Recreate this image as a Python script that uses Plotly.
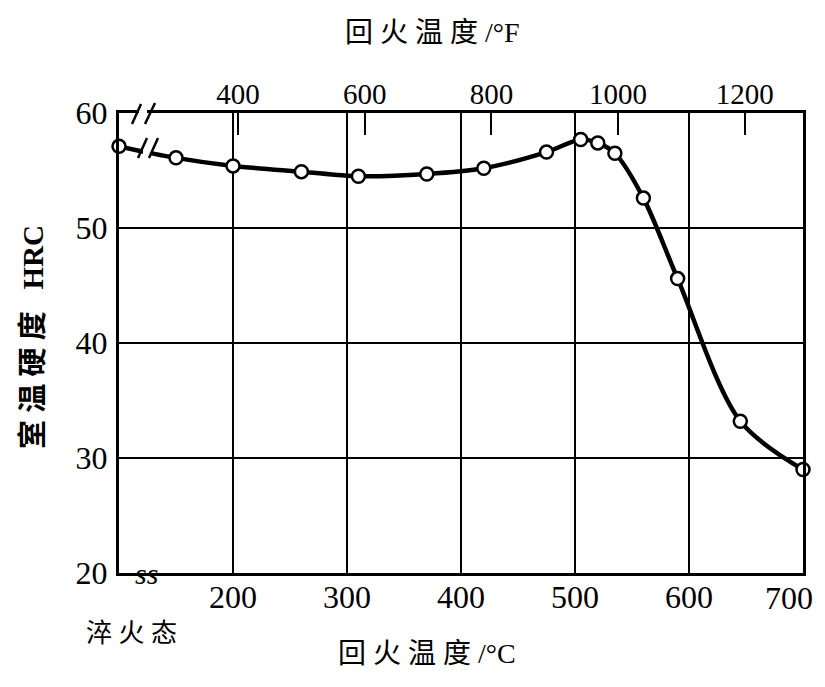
import plotly.graph_objects as go

# ---- data ----
temp_c = [100, 150, 200, 260, 310, 370, 420, 475, 505, 520, 535, 560, 590, 645, 700]
hrc = [57.1, 56.1, 55.4, 54.9, 54.5, 54.7, 55.2, 56.6, 57.7, 57.4, 56.5, 52.6, 45.6, 33.2, 29.0]
c_ticks = [200, 300, 400, 500, 600, 700]
f_ticks = [400, 600, 800, 1000, 1200]
hrc_ticks = [20, 30, 40, 50, 60]
quench_label = "淬 火 态"
x_title_c = "回 火 温 度 /°C"
x_title_f = "回 火 温 度 /°F"
y_title = "室 温 硬 度   HRC"

c_range = [100, 700]
f_range = [c * 9 / 5 + 32 for c in c_range]

# page has an 8px body margin; plot-area geometry in screen pixels
OFF = 8
SW, SH = 825, 687
L, R, T, B = 119, 803, 113, 573
W, H = SW - OFF, SH - OFF
def px(x): return (x - L) / (R - L)
def py(y): return (B - y) / (B - T)

SERIF = "Liberation Serif, Noto Sans CJK SC"
CJK = "Liberation Serif, Noto Sans CJK SC"

fig = go.Figure()
fig.add_trace(go.Scatter(
    x=temp_c, y=hrc, mode="lines+markers",
    line=dict(color="black", width=4.5, shape="spline", smoothing=0.9),
    marker=dict(symbol="circle", size=13, color="white", line=dict(color="black", width=2.5)),
    cliponaxis=False, showlegend=False, xaxis="x", yaxis="y",
))
# invisible trace for the top (°F) axis
fig.add_trace(go.Scatter(x=f_range, y=[None, None], xaxis="x2", yaxis="y",
                         showlegend=False, hoverinfo="skip"))

shapes = []
# break on the top frame
shapes.append(dict(type="rect", xref="paper", yref="paper", x0=px(139), x1=px(147), y0=py(119), y1=py(107),
                   fillcolor="white", line=dict(width=0), layer="above"))
shapes.append(dict(type="line", xref="paper", yref="paper", x0=px(132), y0=py(124), x1=px(141), y1=py(104),
                   line=dict(color="black", width=2.5), layer="above"))
shapes.append(dict(type="line", xref="paper", yref="paper", x0=px(145), y0=py(124), x1=px(155), y1=py(103),
                   line=dict(color="black", width=2.5), layer="above"))
# break on the curve
shapes.append(dict(type="rect", xref="paper", yref="paper", x0=px(143), x1=px(152), y0=py(155), y1=py(145),
                   fillcolor="white", line=dict(width=0), layer="above"))
shapes.append(dict(type="line", xref="paper", yref="paper", x0=px(138), y0=py(158), x1=px(147), y1=py(138),
                   line=dict(color="black", width=2.5), layer="above"))
shapes.append(dict(type="line", xref="paper", yref="paper", x0=px(149), y0=py(158), x1=px(158), y1=py(138),
                   line=dict(color="black", width=2.5), layer="above"))

def ann(text, x, y, size, angle=0, family=CJK):
    return dict(text=text, xref="paper", yref="paper", x=px(x), y=py(y), showarrow=False,
                xanchor="center", yanchor="middle", textangle=angle,
                font=dict(family=family, size=size, color="black"))

annotations = [
    ann(x_title_f, 432, 33, 28),
    ann(x_title_c, 427, 653, 28),
    ann("<b>" + y_title + "</b>", 33, 337, 29, angle=-90),
    ann(quench_label, 131, 633, 26),
    ann("<i>ss</i>", 146, 573, 30, family="Liberation Serif"),
    # last bottom tick label, right-aligned so it stays inside the page
    dict(text=str(c_ticks[-1]), xref="x", yref="paper", x=c_ticks[-1], y=py(598), xshift=12,
         xanchor="right", yanchor="middle", showarrow=False,
         font=dict(family=SERIF, size=32, color="black")),
]

c_ticktext = [str(v) for v in c_ticks[:-1]] + [""]

fig.update_layout(
    width=W, height=H,
    margin=dict(l=L - OFF, r=SW - R, t=T - OFF, b=SH - B, autoexpand=False),
    paper_bgcolor="white", plot_bgcolor="white",
    shapes=shapes, annotations=annotations,
    xaxis=dict(range=c_range, tickvals=c_ticks, ticktext=c_ticktext, ticks="", showgrid=True,
               gridcolor="black", gridwidth=2,
               showline=True, linecolor="black", linewidth=3, mirror=True, zeroline=False,
               ticklabeloverflow="allow", automargin=False,
               tickfont=dict(family=SERIF, size=32, color="black"), ticklabelstandoff=-6),
    xaxis2=dict(range=f_range, overlaying="x", side="top", tickvals=f_ticks, ticks="inside", ticklen=22,
                tickwidth=2, tickcolor="black", showgrid=False, showline=False, zeroline=False,
                ticklabeloverflow="allow", automargin=False,
                tickfont=dict(family=SERIF, size=29, color="black"), ticklabelstandoff=2),
    yaxis=dict(range=[20, 60], tickvals=hrc_ticks, ticks="", showgrid=True, gridcolor="black", gridwidth=2,
               showline=True, linecolor="black", linewidth=3, mirror=True, zeroline=False, automargin=False,
               tickfont=dict(family=SERIF, size=32, color="black"), ticklabelstandoff=2),
)

fig.write_html("out.html")
